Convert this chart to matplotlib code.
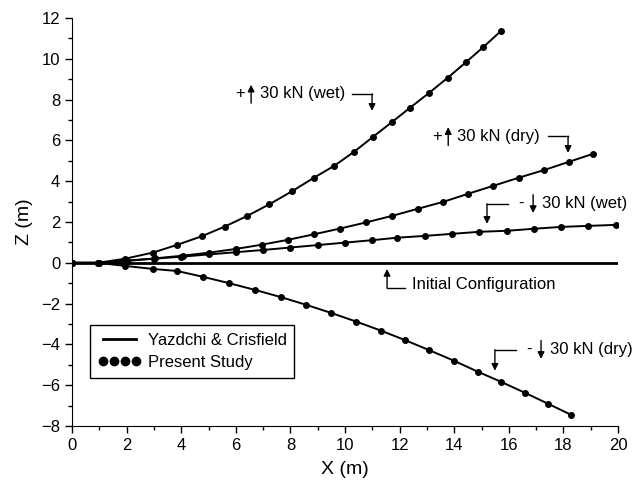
import matplotlib
matplotlib.use("Agg")
import matplotlib.pyplot as plt
from matplotlib.ticker import MultipleLocator
from matplotlib.lines import Line2D

plt.rcParams["font.family"] = ["Liberation Sans", "DejaVu Sans"]

# riser shapes, X (m) and Z (m)
wet_up_x = [0, 0.95, 1.94, 2.96, 3.85, 4.75, 5.6, 6.42, 7.23, 8.05, 8.86, 9.6,
            10.33, 11.03, 11.72, 12.38, 13.08, 13.76, 14.42, 15.07, 15.7]
wet_up_z = [0, 0.0, 0.2, 0.5, 0.88, 1.3, 1.78, 2.3, 2.87, 3.5, 4.17, 4.75,
            5.44, 6.18, 6.9, 7.6, 8.33, 9.07, 9.82, 10.58, 11.35]

dry_up_x = [0, 1.0, 2.0, 3.05, 4.05, 5.03, 6.0, 6.96, 7.92, 8.87, 9.82, 10.77,
            11.72, 12.67, 13.6, 14.5, 15.42, 16.36, 17.3, 18.2, 19.08]
dry_up_z = [0, 0.0, 0.1, 0.22, 0.35, 0.5, 0.68, 0.89, 1.13, 1.4, 1.68, 1.98,
            2.3, 2.65, 2.99, 3.38, 3.77, 4.17, 4.55, 4.95, 5.34]

wet_dn_x = [0, 1, 2, 3, 4, 5, 6, 7, 8, 9, 10, 11, 11.9, 12.93, 13.92, 14.91,
            15.93, 16.92, 17.91, 18.9, 19.93]
wet_dn_z = [0, 0.0, 0.1, 0.2, 0.3, 0.41, 0.52, 0.63, 0.75, 0.87, 0.99, 1.11,
            1.23, 1.32, 1.42, 1.52, 1.57, 1.67, 1.76, 1.81, 1.86]

dry_dn_x = [0, 0.95, 1.94, 2.96, 3.85, 4.81, 5.76, 6.71, 7.65, 8.58, 9.5, 10.41,
            11.31, 12.2, 13.08, 13.99, 14.87, 15.71, 16.59, 17.44, 18.28]
dry_dn_z = [0, 0.0, -0.15, -0.3, -0.4, -0.69, -1.0, -1.33, -1.68, -2.06, -2.46,
            -2.88, -3.32, -3.79, -4.28, -4.8, -5.34, -5.83, -6.37, -6.91, -7.45]

init_x = [0, 20]
init_z = [0, 0]

fig = plt.figure(figsize=(6.34, 4.92), dpi=100)
ax = fig.add_axes([0.1136, 0.1341, 0.8612, 0.8293])

ax.plot(init_x, init_z, color="black", lw=2.0)
for xs, zs in [(wet_up_x, wet_up_z), (dry_up_x, dry_up_z),
               (wet_dn_x, wet_dn_z), (dry_dn_x, dry_dn_z)]:
    ax.plot(xs, zs, color="black", lw=1.4, marker="o", ms=4)

ax.set_xlim(0, 20)
ax.set_ylim(-8, 12)
ax.xaxis.set_major_locator(MultipleLocator(2))
ax.xaxis.set_minor_locator(MultipleLocator(1))
ax.yaxis.set_major_locator(MultipleLocator(2))
ax.yaxis.set_minor_locator(MultipleLocator(1))
ax.tick_params(which="major", direction="out", length=5, width=1, labelsize=12)
ax.tick_params(which="minor", direction="out", length=3, width=1)
for s in ["top", "right"]:
    ax.spines[s].set_visible(False)
ax.set_xlabel("X (m)", fontsize=14, labelpad=6)
ax.set_ylabel("Z (m)", fontsize=14, labelpad=6)

arrow_kw = dict(arrowstyle="-|>", color="black", lw=1, mutation_scale=10,
                shrinkA=0, shrinkB=0)


def vert_arrow(x, z0, z1):
    ax.annotate("", xy=(x, z1), xytext=(x, z0), arrowprops=arrow_kw)


def load_label(x_left, z, sign, rest):
    # sign, small load arrow, then the text
    up = sign == "+"
    ax.text(x_left, z, sign, fontsize=12, va="center", ha="left")
    xa = x_left + (0.59 if up else 0.55)
    if up:
        vert_arrow(xa, z - 0.45, z + 0.45)
    else:
        vert_arrow(xa, z + 0.45, z - 0.45)
    ax.text(x_left + (0.92 if up else 0.88), z, rest, fontsize=12,
            va="center", ha="left")


def bent(x0, x1, z, zt, at_right):
    ax.plot([x0, x1], [z, z], color="black", lw=1)
    xa = x1 if at_right else x0
    vert_arrow(xa, z, zt)


load_label(5.97, 8.28, "+", "30 kN (wet)")
bent(10.26, 10.99, 8.28, 7.45, True)
load_label(13.19, 6.2, "+", "30 kN (dry)")
bent(17.44, 18.17, 6.2, 5.39, True)
load_label(16.34, 2.89, "-", "30 kN (wet)")
bent(15.2, 15.97, 2.89, 1.91, False)
load_label(16.63, -4.26, "-", "30 kN (dry)")
bent(15.49, 16.26, -4.26, -5.29, False)

ax.plot([11.54, 12.2], [-1.23, -1.23], color="black", lw=1)
vert_arrow(11.54, -1.23, -0.3)
ax.text(12.45, -1.05, "Initial Configuration", fontsize=12, va="center", ha="left")

handles = [Line2D([], [], color="black", lw=2),
           Line2D([], [], color="black", ls="none", marker="o", ms=6)]
leg = ax.legend(handles, ["Yazdchi & Crisfield", "Present Study"],
                loc="upper left", bbox_to_anchor=(0.033, 0.2475), fontsize=12,
                numpoints=4, handlelength=2.6, handletextpad=0.4,
                borderpad=0.45, labelspacing=0.45, fancybox=False,
                framealpha=1, edgecolor="black", borderaxespad=0)
leg.get_frame().set_linewidth(1)

fig.savefig("out.png", dpi=100)
